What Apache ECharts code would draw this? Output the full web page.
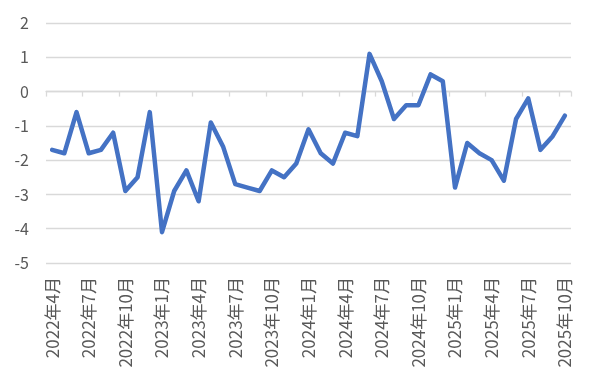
<!DOCTYPE html>
<html><head><meta charset="utf-8">
<script src="https://cdn.jsdelivr.net/npm/echarts@6/dist/echarts.min.js"></script>
<style>html,body{margin:0;padding:0;background:#fff}#c{width:595px;height:383px}</style>
</head><body><div id="c"></div>
<script>
var categories = [
 '2022年4月','2022年5月','2022年6月','2022年7月','2022年8月','2022年9月','2022年10月','2022年11月','2022年12月',
 '2023年1月','2023年2月','2023年3月','2023年4月','2023年5月','2023年6月','2023年7月','2023年8月','2023年9月','2023年10月','2023年11月','2023年12月',
 '2024年1月','2024年2月','2024年3月','2024年4月','2024年5月','2024年6月','2024年7月','2024年8月','2024年9月','2024年10月','2024年11月','2024年12月',
 '2025年1月','2025年2月','2025年3月','2025年4月','2025年5月','2025年6月','2025年7月','2025年8月','2025年9月','2025年10月'];
var values = [
 -1.7,-1.8,-0.6,-1.8,-1.7,-1.2,-2.9,-2.5,-0.6,
 -4.1,-2.9,-2.3,-3.2,-0.9,-1.6,-2.7,-2.8,-2.9,-2.3,-2.5,-2.1,
 -1.1,-1.8,-2.1,-1.2,-1.3,1.1,0.3,-0.8,-0.4,-0.4,0.5,0.3,
 -2.8,-1.5,-1.8,-2.0,-2.6,-0.8,-0.2,-1.7,-1.3,-0.7];
var yMin = -5, yMax = 2, yStep = 1;

var font = '"Noto Sans CJK SC", "Noto Sans", sans-serif';
var chart = echarts.init(document.getElementById('c'), null, {renderer:'canvas'});
chart.setOption({
  animation:false,
  grid:{left:46, right:24, top:23, bottom:120, containLabel:false},
  xAxis:[{
    type:'category', data:categories, boundaryGap:true, position:'bottom',
    axisLine:{show:false, onZero:false}, axisTick:{show:false},
    axisLabel:{interval:2, rotate:90, margin:14, padding:[6,0,0,0], color:'#595959', fontSize:17, fontFamily:font}
  },{
    type:'category', data:categories, boundaryGap:true, position:'bottom',
    axisLine:{show:true, onZero:true, lineStyle:{color:'#d9d9d9', width:1.3}},
    axisTick:{show:true, interval:2, length:5, lineStyle:{color:'#d9d9d9', width:1.3}},
    axisLabel:{show:false}
  }],
  yAxis:{
    type:'value', min:yMin, max:yMax, interval:yStep,
    axisLine:{show:false}, axisTick:{show:false},
    splitLine:{lineStyle:{color:'#d9d9d9', width:1.3}},
    axisLabel:{margin:17, color:'#595959', fontSize:16, fontFamily:font}
  },
  series:[{
    type:'line', data:values, xAxisIndex:0, showSymbol:false, symbol:'none',
    lineStyle:{color:'#4472C4', width:4.5, join:'round', cap:'round'}
  }]
});
</script></body></html>
